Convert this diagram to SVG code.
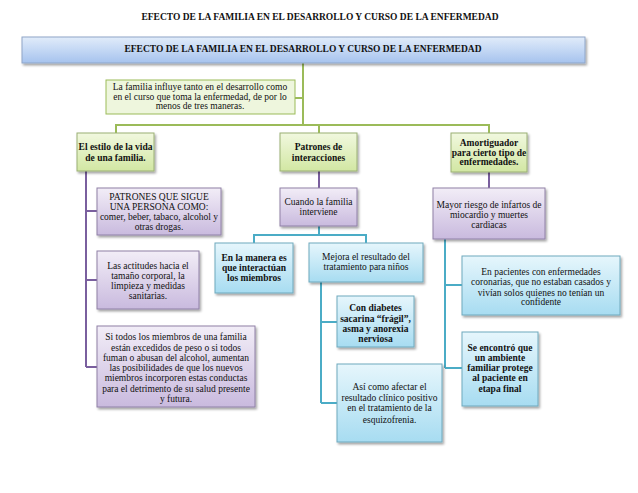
<svg xmlns="http://www.w3.org/2000/svg" width="638" height="493" viewBox="0 0 638 493">
<defs>
<linearGradient id="gHead" x1="0" y1="0" x2="0" y2="1"><stop offset="0" stop-color="#e1ecfa"/><stop offset="1" stop-color="#a6c3ee"/></linearGradient>
<linearGradient id="gGreen" x1="0" y1="0" x2="0" y2="1"><stop offset="0" stop-color="#f1f8df"/><stop offset="1" stop-color="#d2e7a3"/></linearGradient>
<linearGradient id="gPurple" x1="0" y1="0" x2="0" y2="1"><stop offset="0" stop-color="#f2edf7"/><stop offset="1" stop-color="#c9bade"/></linearGradient>
<linearGradient id="gBlue" x1="0" y1="0" x2="0" y2="1"><stop offset="0" stop-color="#e6f6fc"/><stop offset="1" stop-color="#a7dcf1"/></linearGradient>
<filter id="sh" x="-10%" y="-10%" width="130%" height="140%"><feDropShadow dx="1.5" dy="2" stdDeviation="1.2" flood-color="#000" flood-opacity="0.35"/></filter>
</defs>
<style>
text{font-family:"Liberation Serif","Times New Roman",serif;font-size:9.5px;fill:#111;text-anchor:middle}
.b{font-weight:bold}
.t{font-size:9.5px;font-weight:bold}
.head{fill:url(#gHead);stroke:#8fa6c8;stroke-width:1;filter:url(#sh)}
.green{fill:url(#gGreen);stroke:#9aaf74;stroke-width:1;filter:url(#sh)}
.intro{fill:#eef6dd;stroke:#9bbb59;stroke-width:1}
.purple{fill:url(#gPurple);stroke:#8f80a6;stroke-width:1;filter:url(#sh)}
.blue{fill:url(#gBlue);stroke:#6fa9bd;stroke-width:1;filter:url(#sh)}
.cg{fill:none;stroke:#9bbb59;stroke-width:2}
.cp{fill:none;stroke:#7a5f9e;stroke-width:2}
.cb{fill:none;stroke:#4bacc6;stroke-width:2}
</style>
<rect width="638" height="493" fill="#fff"/>
<text id="title" class="t" x="320" y="20">EFECTO  DE LA FAMILIA EN EL  DESARROLLO Y CURSO DE LA ENFERMEDAD</text>
<g id="connectors">
<path class="cg" d="M303,63 V125 M295,98 H303 M116,125 H489 M116,124 V133 M319,125 V133 M489,124 V133"/>
<path class="cp" d="M86,171 V367 M86,211 H97 M86,280 H97 M86,367 H97 M319,171 V188 M489,172 V188"/>
<path class="cb" d="M319,226 V235 M254,235 H366 M254,234 V243 M366,234 V243 M321,282 V403 M321,322 H337 M321,403 H337 M445,239 V368 M445,285 H462 M445,368 H462"/>
</g>
<g id="header"><rect class="head" x="22" y="37" width="563" height="26"/><text class="b" x="303" y="52">EFECTO  DE LA FAMILIA EN EL DESARROLLO Y CURSO DE LA ENFERMEDAD</text></g>
<g id="intro"><rect class="intro" x="106" y="80" width="189" height="34"/>
<text x="200" y="90">La familia  influye  tanto en el desarrollo  como</text>
<text x="200" y="100">en el curso que toma la enfermedad,  de por lo</text>
<text x="200" y="109">menos  de tres maneras.</text></g>
<g id="estilo"><rect class="green" x="77" y="133" width="77" height="38"/>
<text class="b" x="115.5" y="150">El estilo de la vida</text><text class="b" x="115.5" y="161">de una familia.</text></g>
<g id="patrones-int"><rect class="green" x="280" y="133" width="77" height="38"/>
<text class="b" x="318.5" y="150">Patrones de</text><text class="b" x="318.5" y="161">interacciones</text></g>
<g id="amortiguador"><rect class="green" x="451" y="133" width="76" height="39"/>
<text class="b" x="489" y="146">Amortiguador</text><text class="b" x="489" y="156">para cierto tipo de</text><text class="b" x="489" y="165">enfermedades.</text></g>
<g id="patrones-sigue"><rect class="purple" x="97" y="188" width="124" height="47"/>
<text x="159" y="200">PATRONES QUE SIGUE</text><text x="159" y="210">UNA PERSONA COMO:</text><text x="159" y="220">comer, beber, tabaco, alcohol y</text><text x="159" y="230">otras drogas.</text></g>
<g id="actitudes"><rect class="purple" x="97" y="251" width="102" height="58"/>
<text x="148" y="269">Las actitudes  hacia  el</text><text x="148" y="279">tamaño  corporal, la</text><text x="148" y="289">limpieza  y medidas</text><text x="148" y="299">sanitarias.</text></g>
<g id="si-todos"><rect class="purple" x="97" y="326" width="158" height="81"/>
<text x="176" y="340">Si todos  los miembros  de una familia</text><text x="176" y="351">están excedidos de peso o si todos</text><text x="176" y="361">fuman  o abusan del alcohol,  aumentan</text><text x="176" y="371">las posibilidades  de que los nuevos</text><text x="176" y="381">miembros  incorporen  estas conductas</text><text x="176" y="392">para el detrimento  de su salud presente</text><text x="176" y="402">y futura.</text></g>
<g id="cuando"><rect class="purple" x="280" y="188" width="77" height="38"/>
<text x="318.5" y="205">Cuando la familia</text><text x="318.5" y="215">interviene</text></g>
<g id="mayor"><rect class="purple" x="433" y="188" width="112" height="51"/>
<text x="489" y="208">Mayor riesgo de infartos  de</text><text x="489" y="218">miocardio  y muertes</text><text x="489" y="228">cardiacas</text></g>
<g id="manera"><rect class="blue" x="215" y="243" width="78" height="50"/>
<text class="b" x="254" y="261">En la manera  es</text><text class="b" x="254" y="271">que  interactúan</text><text class="b" x="254" y="281">los miembros</text></g>
<g id="mejora"><rect class="blue" x="309" y="243" width="114" height="39"/>
<text x="366" y="260">Mejora el  resultado  del</text><text x="366" y="270">tratamiento  para niños</text></g>
<g id="diabetes"><rect class="blue" x="337" y="296" width="77" height="51"/>
<text class="b" x="375.5" y="311">Con diabetes</text><text class="b" x="375.5" y="322">sacarina “frágil”,</text><text class="b" x="375.5" y="332">asma y anorexia</text><text class="b" x="375.5" y="342">nerviosa</text></g>
<g id="asi-como"><rect class="blue" x="337" y="364" width="105" height="78"/>
<text x="389.5" y="390">Así como  afectar  el</text><text x="389.5" y="401">resultado  clínico  positivo</text><text x="389.5" y="411">en el tratamiento   de la</text><text x="389.5" y="423">esquizofrenia.</text></g>
<g id="pacientes"><rect class="blue" x="462" y="256" width="158" height="59"/>
<text x="541" y="275">En pacientes  con enfermedades</text><text x="541" y="285">coronarias,  que  no estaban casados y</text><text x="541" y="296">vivían  solos  quienes  no tenían  un</text><text x="541" y="305">confidente</text></g>
<g id="se-encontro"><rect class="blue" x="462" y="332" width="76" height="74"/>
<text class="b" x="500" y="351">Se encontró  que</text><text class="b" x="500" y="361">un ambiente</text><text class="b" x="500" y="371">familiar  protege</text><text class="b" x="500" y="381">al paciente  en</text><text class="b" x="500" y="392">etapa final</text></g>
</svg>
